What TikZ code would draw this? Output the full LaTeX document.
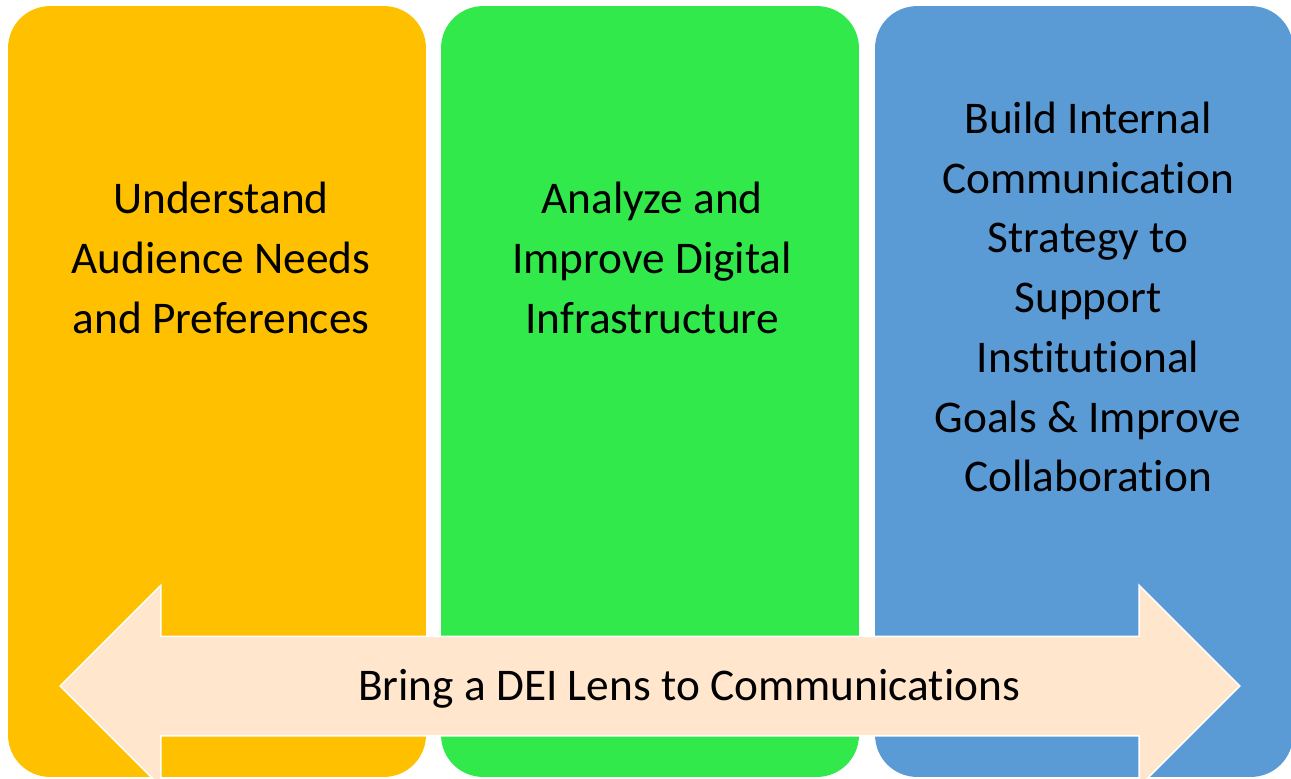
\documentclass[tikz,border=0pt]{standalone}
\usepackage{fontspec}
\setmainfont[Ligatures=NoCommon]{Carlito}
\usetikzlibrary{shapes.arrows}

\definecolor{goldcol}{HTML}{FFC000}
\definecolor{greencol}{HTML}{31E94B}
\definecolor{bluecol}{HTML}{5B9BD5}
\definecolor{peachcol}{HTML}{FFE6CC}

\tikzset{
  column/.style={rectangle,rounded corners=0.84cm,minimum width=8.36cm,
    minimum height=15.42cm,inner sep=0,outer sep=0},
  coltext/.style={align=center,font=\fontsize{25.8}{34}\selectfont},
}

\begin{document}
\begin{tikzpicture}[x=0.02cm,y=-0.02cm]
\useasboundingbox (0,0) rectangle (1291,778);

% the three columns
\node [column,fill=goldcol] (aud) at (217,391.5){};
\node [column,fill=greencol] (dig) at (650,391.5){};
\node [column,fill=bluecol] (com) at (1084,391.5){};

\node [coltext] (audt) at (221,258){Understand\\Audience Needs\\and Preferences};
\node [coltext] (digt) at (652,258){Analyze and\\Improve Digital\\Infrastructure};
\node [coltext] (comt) at (1088,297){Build Internal\\Communication\\Strategy to\\Support\\Institutional\\Goals \& Improve\\Collaboration};

% arrow across the bottom
\node [double arrow,fill=peachcol,draw=white,line width=0.03cm,
  minimum height=23.6cm,double arrow head extend=1.02cm,
  inner sep=0,text height=1.26cm,text depth=0.7cm] (lens) at (650,686){};
\node [coltext,anchor=base] (lenst) at (689,700){Bring a DEI Lens to Communications};
\end{tikzpicture}
\end{document}
